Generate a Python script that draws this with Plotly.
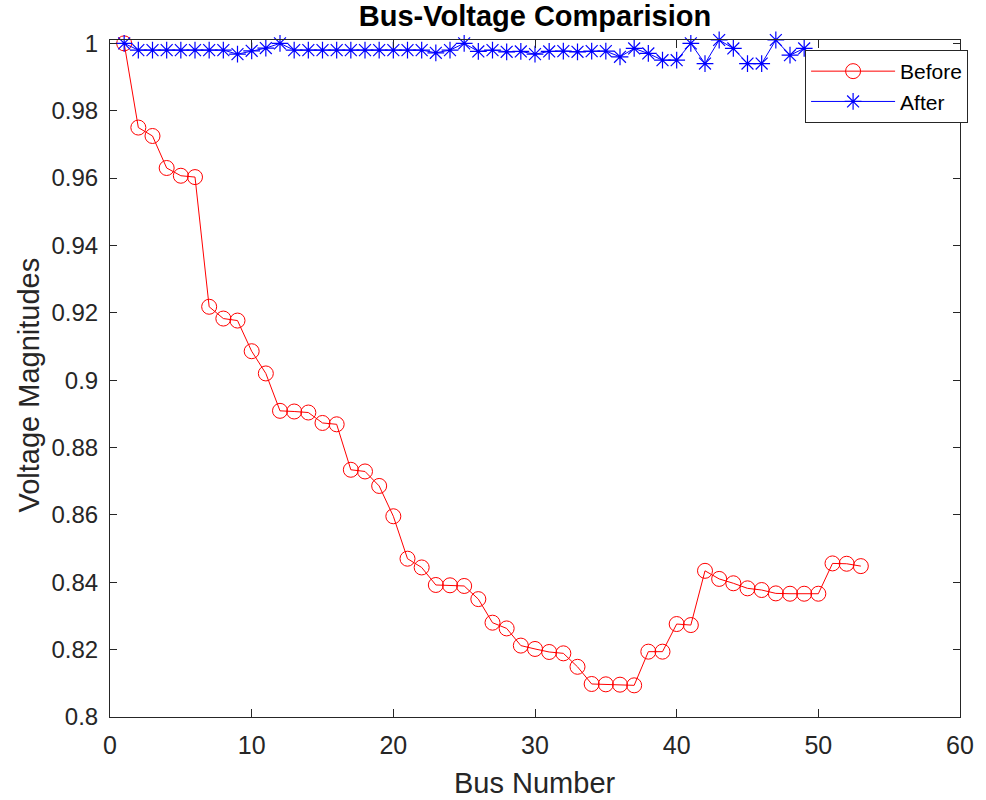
import plotly.graph_objects as go

# Bus voltage magnitudes (p.u.) before and after compensation
bus_before = list(range(1, 54))
v_before = [
    1.0000, 0.9750, 0.9725, 0.9630, 0.9607, 0.9603, 0.9218, 0.9183, 0.9177, 0.9086,
    0.9020, 0.8909, 0.8907, 0.8904, 0.8873, 0.8869, 0.8734, 0.8729, 0.8686, 0.8596,
    0.8470, 0.8444, 0.8392, 0.8391, 0.8389, 0.8350, 0.8280, 0.8263, 0.8212, 0.8202,
    0.8193, 0.8189, 0.8149, 0.8098, 0.8097, 0.8096, 0.8094, 0.8194, 0.8194, 0.8276,
    0.8273, 0.8434, 0.8410, 0.8397, 0.8382, 0.8377, 0.8367, 0.8366, 0.8366, 0.8366,
    0.8456, 0.8455, 0.8448,
]

bus_after = list(range(1, 50))
v_after = [
    1.0000, 0.9980, 0.9980, 0.9980, 0.9980, 0.9980, 0.9980, 0.9980, 0.9968, 0.9978,
    0.9986, 1.0000, 0.9980, 0.9980, 0.9980, 0.9980, 0.9980, 0.9980, 0.9980, 0.9980,
    0.9980, 0.9980, 0.9972, 0.9980, 1.0000, 0.9976, 0.9980, 0.9975, 0.9976, 0.9968,
    0.9976, 0.9977, 0.9975, 0.9977, 0.9977, 0.9960, 0.9985, 0.9970, 0.9950, 0.9950,
    1.0000, 0.9940, 1.0010, 0.9985, 0.9940, 0.9940, 1.0010, 0.9965, 0.9985,
]

x_ticks = [0, 10, 20, 30, 40, 50, 60]
y_ticks = [0.80, 0.82, 0.84, 0.86, 0.88, 0.90, 0.92, 0.94, 0.96, 0.98, 1.00]
y_tick_text = ["0.8", "0.82", "0.84", "0.86", "0.88", "0.9", "0.92", "0.94", "0.96", "0.98", "1"]

AX = "#262626"
SANS = "Liberation Sans, Arial, sans-serif"
NARROW = "Liberation Sans Narrow, Liberation Sans, sans-serif"

fig = go.Figure()
fig.add_trace(go.Scatter(
    x=bus_before, y=v_before, name="Before", mode="lines+markers",
    line=dict(color="#ff0000", width=1),
    marker=dict(symbol="circle-open", size=15, color="#ff0000", line=dict(width=1, color="#ff0000")),
    cliponaxis=False,
))
fig.add_trace(go.Scatter(
    x=bus_after, y=v_after, name="After", mode="lines+markers",
    line=dict(color="#0000ff", width=1),
    marker=dict(symbol="asterisk-open", size=14, color="#0000ff", line=dict(width=1.2, color="#0000ff")),
    cliponaxis=False,
))

fig.update_layout(
    width=986, height=800,
    margin=dict(l=110, r=20, t=40, b=83),
    paper_bgcolor="white", plot_bgcolor="white",
    font=dict(family=SANS, color=AX, size=19),
    title=dict(
        text="<b>Bus-Voltage Comparision</b>",
        x=0.5, xref="paper", xanchor="center",
        y=1 - 16 / 800, yref="container", yanchor="middle",
        font=dict(size=29, color="black", family=SANS),
    ),
    showlegend=True,
    legend=dict(
        x=(810 - 110) / 856, y=(717 - 50) / 677, xanchor="left", yanchor="top",
        bgcolor="white", bordercolor=AX, borderwidth=1,
        font=dict(size=21, color="black", family=SANS),
        itemwidth=84, tracegroupgap=0,
    ),
)

fig.update_xaxes(
    range=[0, 60], tickvals=x_ticks, ticktext=[str(t) for t in x_ticks],
    showline=True, linecolor=AX, linewidth=1, mirror="ticks",
    ticks="inside", ticklen=8, tickcolor=AX, showgrid=False, zeroline=False,
    tickfont=dict(family=SANS, size=25, color=AX), ticklabelstandoff=6,
)
fig.update_yaxes(
    range=[0.8, 1.001], tickvals=y_ticks, ticktext=y_tick_text,
    showline=True, linecolor=AX, linewidth=1, mirror="ticks",
    ticks="inside", ticklen=7, tickcolor=AX, showgrid=False, zeroline=False,
    tickfont=dict(family=SANS, size=24, color=AX), ticklabelstandoff=6,
)

# Axis titles
fig.add_annotation(
    text="Bus Number", xref="paper", yref="paper", x=0.5, y=-(783 - 717) / 677,
    xanchor="center", yanchor="middle", showarrow=False,
    font=dict(family=NARROW, size=29, color=AX),
)
fig.add_annotation(
    text="Voltage Magnitudes", xref="paper", yref="paper", x=-(110 - 28) / 856, y=(717 - 385) / 677,
    xanchor="center", yanchor="middle", showarrow=False, textangle=-90,
    font=dict(family=NARROW, size=29, color=AX),
)

fig.write_html("out.html")
